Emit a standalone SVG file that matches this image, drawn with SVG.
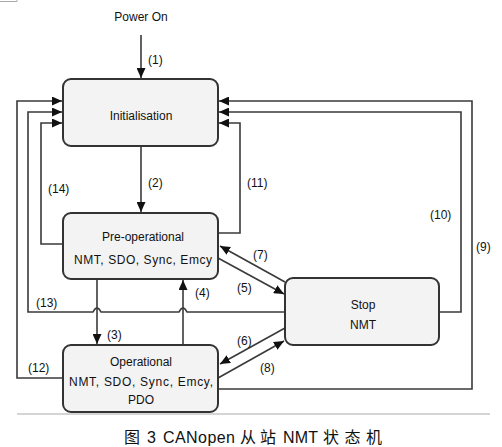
<svg xmlns="http://www.w3.org/2000/svg" width="502" height="447" viewBox="0 0 502 447">
<style>
.node rect{fill:#f3f3f3;stroke:#333;stroke-width:2}
.t{font-family:"Liberation Sans","DejaVu Sans",sans-serif;font-size:12px;fill:#111;text-anchor:middle}
.lbl{font-family:"Liberation Sans","DejaVu Sans",sans-serif;font-size:12px;fill:#111}
.c{fill:none;stroke:#3a3a3a;stroke-width:1.6}
.cap{font-family:"Liberation Sans","Noto Sans CJK SC",sans-serif;font-size:16px;fill:#111}
</style>
<defs>
<marker id="ah" markerUnits="userSpaceOnUse" markerWidth="11" markerHeight="9" refX="10" refY="4.5" orient="auto">
<path d="M0,0 L10,4.5 L0,9 z" fill="#111"/>
</marker>
</defs>
<rect width="502" height="447" fill="#fff"/>
<path d="M0,1.5 H17 V0" fill="none" stroke="#aaa" stroke-width="1"/>

<g id="connectors">
<!-- (1) -->
<path class="c" d="M141,35 V78" marker-end="url(#ah)"/>
<!-- (2) -->
<path class="c" d="M141,147 V212" marker-end="url(#ah)"/>
<!-- (3) -->
<path class="c" d="M97,280 V344" marker-end="url(#ah)"/>
<!-- (4) -->
<path class="c" d="M183,345 V280" marker-end="url(#ah)"/>
<!-- (14) -->
<path class="c" d="M63,244 H41 V123 H62" marker-end="url(#ah)"/>
<!-- (13) -->
<path class="c" d="M285,312 H187 Q183,304 179,312 H101 Q97,304 93,312 H28 V112 H62" marker-end="url(#ah)"/>
<!-- (12) -->
<path class="c" d="M63,378 H17 V101 H62" marker-end="url(#ah)"/>
<!-- (11) -->
<path class="c" d="M218,233 H240 V123 H219" marker-end="url(#ah)"/>
<!-- (10) -->
<path class="c" d="M439,312 H461 V112 H219" marker-end="url(#ah)"/>
<!-- (9) -->
<path class="c" d="M218,389 H472 V101 H219" marker-end="url(#ah)"/>
<!-- (7) -->
<path class="c" d="M285,282 L220,246" marker-end="url(#ah)"/>
<!-- (5) -->
<path class="c" d="M218,258 L284,294" marker-end="url(#ah)"/>
<!-- (6) -->
<path class="c" d="M285,328 L220,364" marker-end="url(#ah)"/>
<!-- (8) -->
<path class="c" d="M218,378 L284,341" marker-end="url(#ah)"/>
</g>

<g id="labels">
<text class="t" x="141" y="21">Power On</text>
<text class="lbl" x="148" y="64">(1)</text>
<text class="lbl" x="148" y="187">(2)</text>
<text class="lbl" x="48" y="193">(14)</text>
<text class="lbl" x="247" y="187">(11)</text>
<text class="lbl" x="430" y="219">(10)</text>
<text class="lbl" x="476" y="251">(9)</text>
<text class="lbl" x="253" y="259">(7)</text>
<text class="lbl" x="237" y="292">(5)</text>
<text class="lbl" x="195" y="297">(4)</text>
<text class="lbl" x="36" y="307">(13)</text>
<text class="lbl" x="107" y="339">(3)</text>
<text class="lbl" x="237" y="345">(6)</text>
<text class="lbl" x="28" y="372">(12)</text>
<text class="lbl" x="260" y="372">(8)</text>
</g>

<g id="initialisation" class="node">
<rect x="63" y="79" width="155" height="67" rx="8"/>
<text class="t" x="141" y="120">Initialisation</text>
</g>
<g id="preoperational" class="node">
<rect x="63" y="213" width="155" height="66" rx="8"/>
<text class="t" x="143" y="241">Pre-operational</text>
<text class="t" x="143" y="264" textLength="138" lengthAdjust="spacing">NMT, SDO, Sync, Emcy</text>
</g>
<g id="operational" class="node">
<rect x="63" y="345" width="155" height="67" rx="8"/>
<text class="t" x="141" y="366">Operational</text>
<text class="t" x="141" y="386" textLength="144" lengthAdjust="spacing">NMT, SDO, Sync, Emcy,</text>
<text class="t" x="141" y="404">PDO</text>
</g>
<g id="stop" class="node">
<rect x="285" y="278" width="154" height="67" rx="8"/>
<text class="t" x="363" y="309">Stop</text>
<text class="t" x="363" y="329">NMT</text>
</g>

<line x1="17" y1="414" x2="490" y2="414" stroke="#aaa" stroke-width="1"/>
<text class="cap" y="443"><tspan x="124">图</tspan><tspan x="147">3</tspan><tspan x="163" textLength="72" lengthAdjust="spacing">CANopen</tspan><tspan x="240" letter-spacing="4">从站</tspan><tspan x="283" textLength="35" lengthAdjust="spacing">NMT</tspan><tspan x="323" letter-spacing="5.5">状态机</tspan></text>
</svg>
